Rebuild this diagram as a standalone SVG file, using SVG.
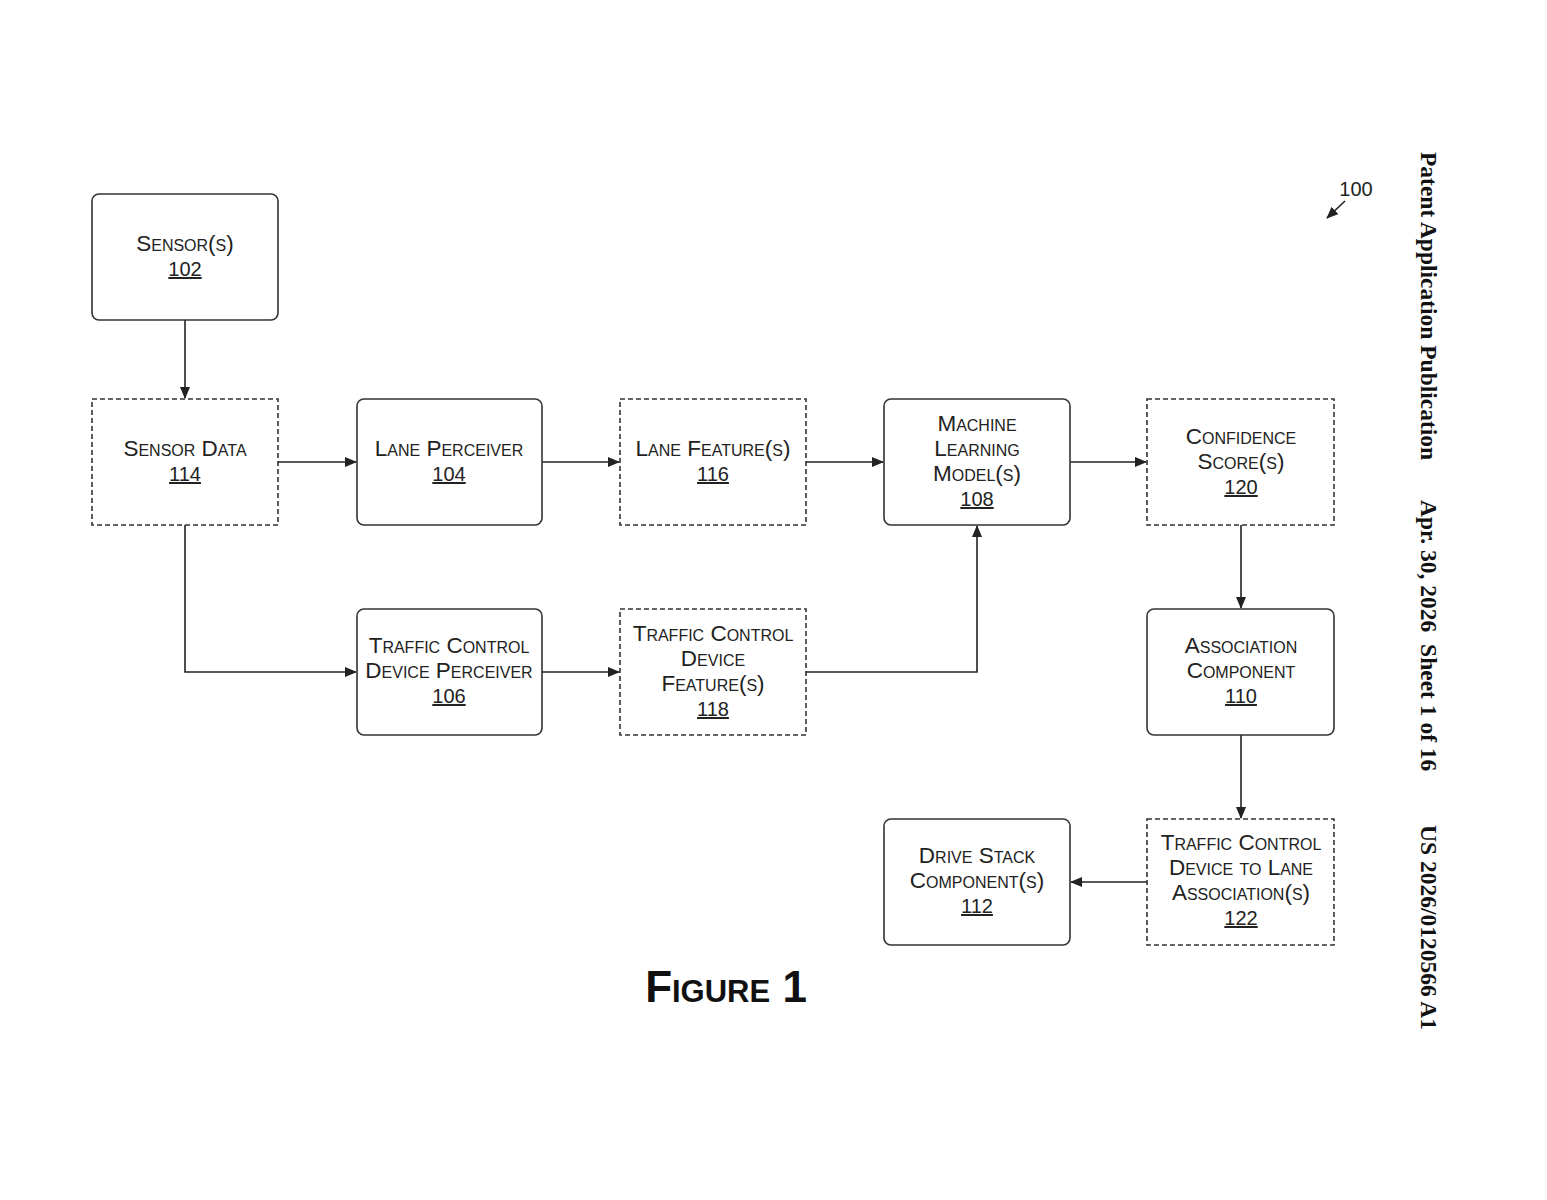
<svg xmlns="http://www.w3.org/2000/svg" width="1547" height="1200" viewBox="0 0 1547 1200">
<style>
.b{fill:#fff;stroke:#333;stroke-width:1.6}
.d{fill:#fff;stroke:#333;stroke-width:1.6;stroke-dasharray:5,3}
.t{font-family:"Liberation Sans",Arial,sans-serif;font-size:22.5px;font-variant:small-caps;fill:#222;text-anchor:middle}
.u{font-size:20px;text-decoration:underline}
.c{fill:none;stroke:#222;stroke-width:1.6}
.s{font-family:"Liberation Serif","Times New Roman",serif;font-size:23.5px;font-weight:bold;fill:#111}
</style>
<defs><marker id="a" markerWidth="12" markerHeight="10" refX="11" refY="5" orient="auto" markerUnits="userSpaceOnUse"><path d="M0,0L12,5L0,10z" fill="#222"/></marker></defs>
<rect width="1547" height="1200" fill="#fff"/>
<g id="connectors">
<path class="c" d="M185,320V398" marker-end="url(#a)"/>
<path class="c" d="M278,462H356" marker-end="url(#a)"/>
<path class="c" d="M542,462H619" marker-end="url(#a)"/>
<path class="c" d="M806,462H883" marker-end="url(#a)"/>
<path class="c" d="M1070,462H1146" marker-end="url(#a)"/>
<path class="c" d="M185,525V672H356" marker-end="url(#a)"/>
<path class="c" d="M542,672H619" marker-end="url(#a)"/>
<path class="c" d="M806,672H977V526" marker-end="url(#a)"/>
<path class="c" d="M1241,525V608" marker-end="url(#a)"/>
<path class="c" d="M1241,735V818" marker-end="url(#a)"/>
<path class="c" d="M1147,882H1071" marker-end="url(#a)"/>
<path class="c" d="M1345,201L1327,218" marker-end="url(#a)"/>
</g>
<g id="n102"><rect class="b" x="92" y="194" width="186" height="126" rx="7"/><text class="t" x="185" y="251">Sensor(s)</text><text class="t u" x="185" y="276">102</text></g>
<g id="n114"><rect class="d" x="92" y="399" width="186" height="126"/><text class="t" x="185" y="456">Sensor Data</text><text class="t u" x="185" y="481">114</text></g>
<g id="n104"><rect class="b" x="357" y="399" width="185" height="126" rx="7"/><text class="t" x="449" y="456">Lane Perceiver</text><text class="t u" x="449" y="481">104</text></g>
<g id="n116"><rect class="d" x="620" y="399" width="186" height="126"/><text class="t" x="713" y="456">Lane Feature(s)</text><text class="t u" x="713" y="481">116</text></g>
<g id="n108"><rect class="b" x="884" y="399" width="186" height="126" rx="7"/><text class="t" x="977" y="431">Machine</text><text class="t" x="977" y="456">Learning</text><text class="t" x="977" y="481">Model(s)</text><text class="t u" x="977" y="506">108</text></g>
<g id="n120"><rect class="d" x="1147" y="399" width="187" height="126"/><text class="t" x="1241" y="444">Confidence</text><text class="t" x="1241" y="469">Score(s)</text><text class="t u" x="1241" y="494">120</text></g>
<g id="n106"><rect class="b" x="357" y="609" width="185" height="126" rx="7"/><text class="t" x="449" y="653">Traffic Control</text><text class="t" x="449" y="678">Device Perceiver</text><text class="t u" x="449" y="703">106</text></g>
<g id="n118"><rect class="d" x="620" y="609" width="186" height="126"/><text class="t" x="713" y="641">Traffic Control</text><text class="t" x="713" y="666">Device</text><text class="t" x="713" y="691">Feature(s)</text><text class="t u" x="713" y="716">118</text></g>
<g id="n110"><rect class="b" x="1147" y="609" width="187" height="126" rx="7"/><text class="t" x="1241" y="653">Association</text><text class="t" x="1241" y="678">Component</text><text class="t u" x="1241" y="703">110</text></g>
<g id="n112"><rect class="b" x="884" y="819" width="186" height="126" rx="7"/><text class="t" x="977" y="863">Drive Stack</text><text class="t" x="977" y="888">Component(s)</text><text class="t u" x="977" y="913">112</text></g>
<g id="n122"><rect class="d" x="1147" y="819" width="187" height="126"/><text class="t" x="1241" y="850">Traffic Control</text><text class="t" x="1241" y="875">Device to Lane</text><text class="t" x="1241" y="900">Association(s)</text><text class="t u" x="1241" y="925">122</text></g>
<text x="1356" y="196" font-family="Liberation Sans,Arial,sans-serif" font-size="20" text-anchor="middle" fill="#222">100</text>
<text x="726" y="1002" font-family="Liberation Sans,Arial,sans-serif" font-size="44" font-weight="bold" font-variant="small-caps" text-anchor="middle" fill="#111">Figure 1</text>
<text class="s" transform="translate(1421,152) rotate(90)">Patent Application Publication</text>
<text class="s" transform="translate(1421,500) rotate(90)" xml:space="preserve">Apr. 30, 2026  Sheet 1 of 16</text>
<text class="s" transform="translate(1421,825) rotate(90)">US 2026/0120566 A1</text>
</svg>
